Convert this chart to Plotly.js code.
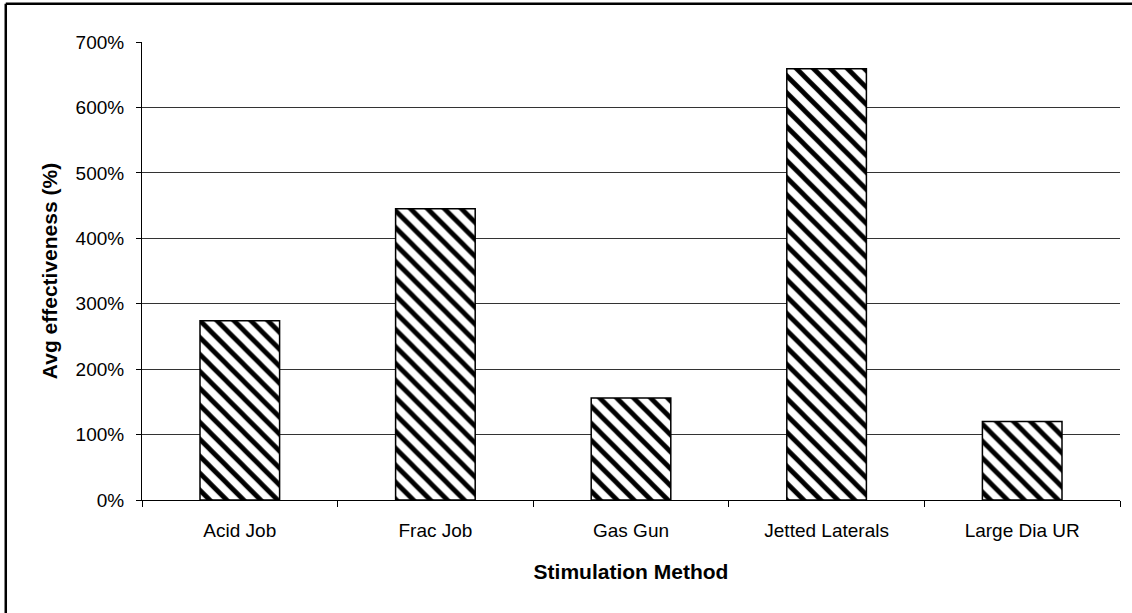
<!DOCTYPE html>
<html>
<head>
<meta charset="utf-8">
<script src="https://cdn.plot.ly/plotly-3.0.1.min.js"></script>
<style>
  html, body { margin: 0; padding: 0; background: #fff; }
  #chart { width: 1132px; height: 613px; }
</style>
</head>
<body>
<div id="chart"></div>
<script>
const categories = ["Acid Job", "Frac Job", "Gas Gun", "Jetted Laterals", "Large Dia UR"];
const effectiveness = [2.74, 4.45, 1.56, 6.59, 1.20];
const yTickVals = [0, 1, 2, 3, 4, 5, 6, 7];

const trace = {
  type: "bar",
  x: categories,
  y: effectiveness,
  marker: {
    color: "#ffffff",
    line: { color: "#000000", width: 1.5 },
    pattern: { shape: "\\", size: 12, solidity: 0.4, fgcolor: "#000000", bgcolor: "#ffffff" }
  },
  hoverinfo: "x+y"
};

const font = { family: "'Liberation Sans', Arial, sans-serif", color: "#000" };

const layout = {
  width: 1132,
  height: 613,
  margin: { l: 142, r: 12, t: 42, b: 113 },
  paper_bgcolor: "#ffffff",
  plot_bgcolor: "#ffffff",
  showlegend: false,
  bargap: 0.593,
  font: font,
  xaxis: {
    type: "category",
    showline: true,
    linecolor: "#000",
    linewidth: 1,
    ticks: "outside",
    tickson: "boundaries",
    ticklen: 6,
    tickcolor: "#000",
    tickwidth: 1,
    showgrid: false,
    tickfont: { family: font.family, size: 19, color: "#000" },
    ticklabelstandoff: 13,
    title: { text: "Stimulation Method", font: { family: font.family, size: 21, color: "#000", weight: "bold" }, standoff: 24 }
  },
  yaxis: {
    range: [0, 7],
    tickvals: yTickVals,
    tickformat: ".0%",
    showline: true,
    linecolor: "#000",
    linewidth: 1,
    ticks: "outside",
    ticklen: 5,
    tickcolor: "#000",
    showgrid: true,
    gridcolor: "#333",
    gridwidth: 1,
    zeroline: false,
    tickfont: { family: font.family, size: 19, color: "#000" },
    ticklabelstandoff: 8,
    title: { text: "Avg effectiveness (%)", font: { family: font.family, size: 21, color: "#000", weight: "bold" }, standoff: 12 }
  },
  shapes: [
    { type: "line", xref: "paper", yref: "paper", x0: -0.1393, x1: 1.05, y0: 1.0837, y1: 1.0837, line: { color: "#000", width: 2.5 } },
    { type: "line", xref: "paper", yref: "paper", x0: -0.1393, x1: -0.1393, y0: 1.0837, y1: -0.3, line: { color: "#000", width: 2.5 } }
  ]
};

Plotly.newPlot("chart", [trace], layout, { displayModeBar: false, staticPlot: true });
</script>
</body>
</html>
